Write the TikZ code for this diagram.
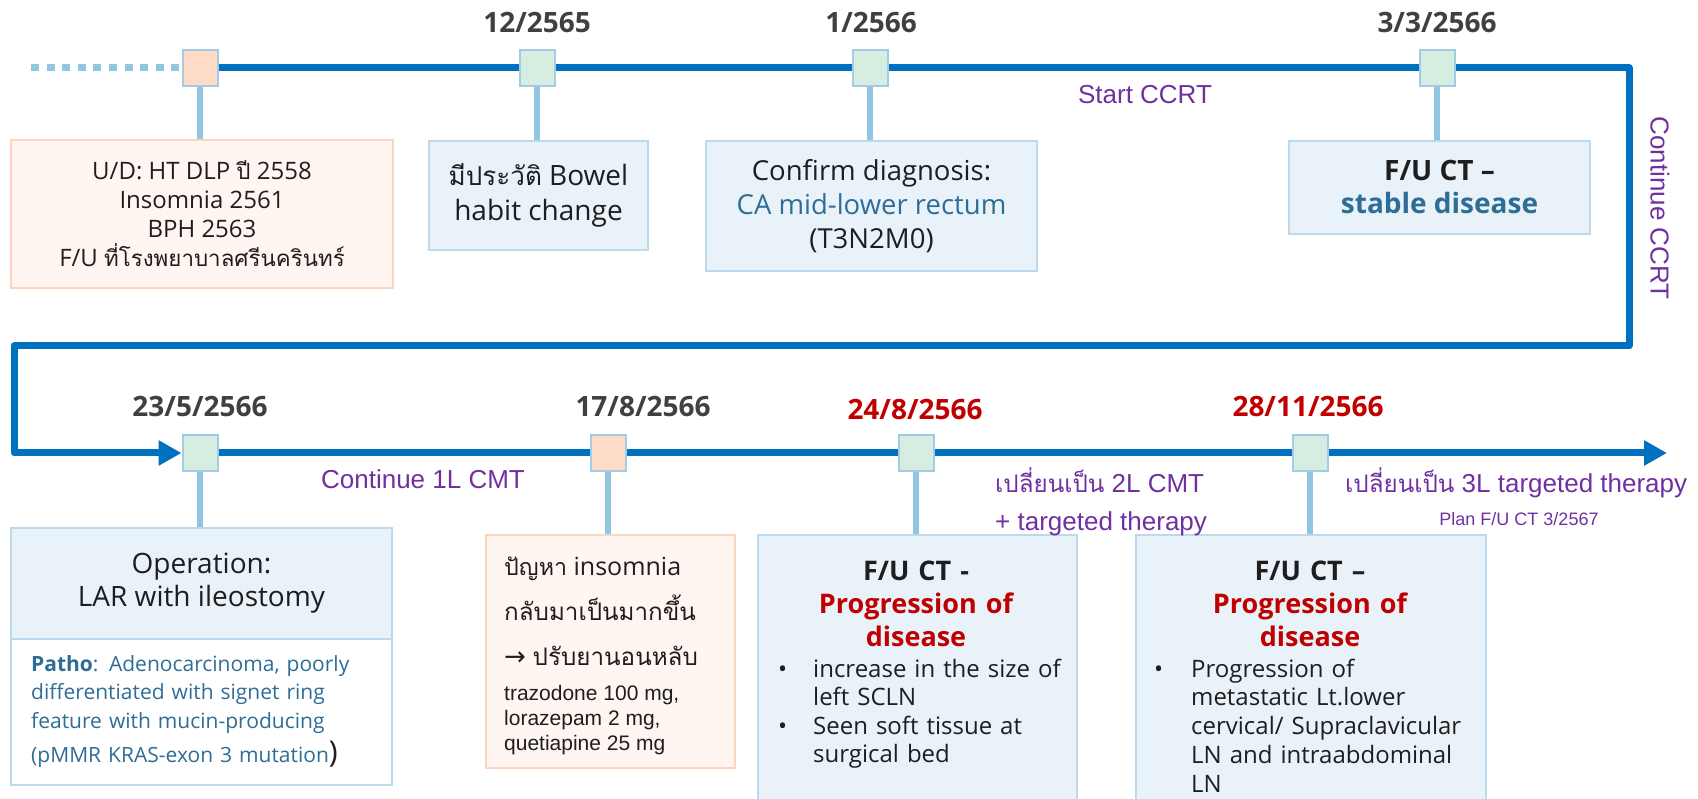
\documentclass[tikz,border=0pt]{standalone}
\usepackage{fontspec}
\setmainfont{Open Sans}
\newfontfamily\arialf{Liberation Sans}
\newfontfamily\thaifont[Script=Thai,Scale=0.93]{Loma}
\newfontfamily\symfont{DejaVu Sans}
\newcommand{\thaitxt}[1]{{\thaifont #1}}
\usetikzlibrary{arrows.meta,backgrounds}
\definecolor{mainblue}{HTML}{0070C0}
\definecolor{lightline}{HTML}{92C5E2}
\definecolor{sqborder}{HTML}{A2CBE8}
\definecolor{mint}{HTML}{D5EEE1}
\definecolor{peachsq}{HTML}{FDDBC6}
\definecolor{bluefill}{HTML}{EAF2F9}
\definecolor{blueborder}{HTML}{BCD9EE}
\definecolor{peachfill}{HTML}{FFF6F2}
\definecolor{peachborder}{HTML}{FBD5BE}
\definecolor{dategray}{HTML}{404040}
\definecolor{datered}{HTML}{C00000}
\definecolor{purp}{HTML}{7030A0}
\definecolor{tealblue}{HTML}{2E6E96}
\definecolor{txt}{HTML}{1E1E1E}
\tikzset{
  mainline/.style={draw=mainblue, line width=7pt, line join=round},
  stem/.style={draw=lightline, line width=6pt},
  sqmint/.style={draw=sqborder, line width=2pt, fill=mint, minimum width=35pt, minimum height=36pt, inner sep=0pt},
  sqpeach/.style={sqmint, fill=peachsq},
  bluebox/.style={draw=blueborder, line width=2pt, fill=bluefill, inner sep=0pt, anchor=north west, text=txt, align=center},
  whitebox/.style={bluebox, fill=white},
  peachbox/.style={draw=peachborder, line width=2pt, fill=peachfill, inner sep=0pt, anchor=north west, text=txt, align=center},
  datelbl/.style={font={\fontsize{28}{30}\selectfont\bfseries}, text=dategray, anchor=base, inner sep=0pt},
  redlbl/.style={datelbl, text=datered},
  purplbl/.style={font={\arialf\fontsize{26}{30}\selectfont}, text=purp, inner sep=0pt},
  txtline/.style={anchor=base west, inner sep=0pt, text=txt},
  tip/.style={-{Triangle[length=23pt,width=24pt]}}
}
\begin{document}
\begin{tikzpicture}[x=1pt,y=-1pt]
\useasboundingbox (0,0) rectangle (1698,799);

% boxes
\node[peachbox, minimum width=382pt, minimum height=148pt, font={\fontsize{24}{29}\selectfont}] (box1) at (10,139)
  {U/D: HT DLP \thaitxt{ปี} 2558\\ Insomnia 2561\\ BPH 2563\\ F/U \thaitxt{ที่โรงพยาบาลศรีนครินทร์}};
\node[bluebox, minimum width=219pt, minimum height=109pt, font={\fontsize{28}{35}\selectfont}] (box2) at (428,140)
  {\thaitxt{มีประวัติ} Bowel\\ habit change};
\node[bluebox, minimum width=331pt, minimum height=130pt, font={\fontsize{27.5}{34}\selectfont}] (box3) at (705,140)
  {Confirm diagnosis:\\ \textcolor{tealblue}{CA mid-lower rectum}\\ (T3N2M0)};
\node[bluebox, minimum width=301pt, minimum height=93pt, font={\fontsize{28}{33}\selectfont\bfseries}] (box4) at (1288,140)
  {F/U CT --\\ \textcolor{tealblue}{stable disease}};
\node[bluebox, minimum width=381pt, minimum height=111pt, font={\fontsize{28}{33}\selectfont}] (box5) at (10,527)
  {Operation:\\ LAR with ileostomy};
\node[whitebox, minimum width=381pt, minimum height=146pt] (box5b) at (10,638) {};
\node[peachbox, minimum width=249pt, minimum height=233pt] (box6) at (485,534) {};
\node[bluebox, minimum width=319pt, minimum height=290pt] (box7) at (757,534) {};
\node[bluebox, minimum width=350pt, minimum height=290pt] (box8) at (1135,534) {};

% squares
\node[sqpeach] (sq1) at (200,68) {};
\node[sqmint] (sq2) at (537,68) {};
\node[sqmint] (sq3) at (870,68) {};
\node[sqmint] (sq4) at (1437,68) {};
\node[sqmint] (sq5) at (200,453) {};
\node[sqpeach] (sq6) at (608,453) {};
\node[sqmint] (sq7) at (916,453) {};
\node[sqmint] (sq8) at (1310,453) {};

\coordinate (dotstart) at (31,68);
\coordinate (c1) at (1629,68);
\coordinate (c2) at (1629,346);
\coordinate (c3) at (14,346);
\coordinate (c4) at (14,453);
\coordinate (lineend) at (1667,453);

\begin{pgfonlayer}{background}
  \draw[draw=lightline, line width=7pt, dash pattern=on 8pt off 7.6pt] (dotstart) -- (sq1.west);
  \draw[mainline, tip] (sq1.center) -- (c1) -- (c2) -- (c3) -- (c4) -- (sq5.west);
  \draw[mainline, tip] (sq5.center) -- (lineend);
  \foreach \s/\b in {sq1/box1, sq2/box2, sq3/box3, sq4/box4, sq5/box5, sq6/box6, sq7/box7, sq8/box8}
    \draw[stem] (\s.south) -- (\s.south |- \b.north);
\end{pgfonlayer}

% dates
\node[datelbl] (d1) at (537,33) {12/2565};
\node[datelbl] (d2) at (871,33) {1/2566};
\node[datelbl] (d3) at (1437,33) {3/3/2566};
\node[datelbl] (d4) at (200,417) {23/5/2566};
\node[datelbl] (d5) at (643,417) {17/8/2566};
\node[redlbl] (d6) at (915,420) {24/8/2566};
\node[redlbl] (d7) at (1308,417) {28/11/2566};

% purple labels
\node[purplbl, anchor=base] (l1) at (1145,104) {Start CCRT};
\node[purplbl, anchor=base] (l2) at (423,489) {Continue 1L CMT};
\node[purplbl, rotate=-90] (l3) at (1660,208) {Continue CCRT};
\node[purplbl, anchor=base west] (l4) at (995,492) {\thaitxt{เปลี่ยนเป็น} 2L CMT};
\node[purplbl, anchor=base west] (l5) at (995,530) {+ targeted therapy};
\node[purplbl, anchor=base west] (l6) at (1345,492) {\thaitxt{เปลี่ยนเป็น} 3L targeted therapy};
\node[purplbl, anchor=base, font={\arialf\fontsize{18}{20}\selectfont}] (l7) at (1519,525) {Plan F/U CT 3/2567};

% patho text
\node[anchor=base west, inner sep=0pt, text width=355pt, align=left, text=tealblue, font={\fontsize{21}{28.5}\selectfont}] (patho) at (31,671)
  {\textbf{Patho}: Adenocarcinoma, poorly\\ differentiated with signet ring\\ feature with mucin-producing\\[6pt] (pMMR KRAS-exon 3 mutation{\color{txt}\fontsize{30}{30}\selectfont)}};

% box 6 text
\node[txtline, font={\fontsize{25}{30}\selectfont}] (t6a) at (504,575) {\thaitxt{ปัญหา} insomnia};
\node[txtline, font={\fontsize{26}{30}\selectfont}] (t6b) at (504,620) {\thaitxt{กลับมาเป็นมากขึ้น}};
\node[txtline, font={\fontsize{26}{30}\selectfont}] (t6c) at (504,665) {{\symfont →} \thaitxt{ปรับยานอนหลับ}};
\node[txtline, font={\arialf\fontsize{21}{25}\selectfont}] (t6d) at (504,700) {trazodone 100 mg,};
\node[txtline, font={\arialf\fontsize{21}{25}\selectfont}] (t6e) at (504,725) {lorazepam 2 mg,};
\node[txtline, font={\arialf\fontsize{21}{25}\selectfont}] (t6f) at (504,750) {quetiapine 25 mg};

% box 7 text
\node[anchor=base, inner sep=0pt, text width=310pt, align=center, text=txt, font={\fontsize{27}{33}\selectfont\bfseries}] (h7) at (916,580)
  {F/U CT -\\ \textcolor{datered}{Progression of}\\ \textcolor{datered}{disease}};
\node[txtline, font={\fontsize{24}{28}\selectfont}] (b7a) at (778,677) {•};
\node[txtline, text width=250pt, align=left, font={\fontsize{24}{28.5}\selectfont}] (t7a) at (813,677) {increase in the size of\\ left SCLN};
\node[txtline, font={\fontsize{24}{28}\selectfont}] (b7b) at (778,734) {•};
\node[txtline, text width=250pt, align=left, font={\fontsize{24}{28.5}\selectfont}] (t7b) at (813,734) {Seen soft tissue at\\ surgical bed};

% box 8 text
\node[anchor=base, inner sep=0pt, text width=340pt, align=center, text=txt, font={\fontsize{27}{33}\selectfont\bfseries}] (h8) at (1310,580)
  {F/U CT --\\ \textcolor{datered}{Progression of}\\ \textcolor{datered}{disease}};
\node[txtline, font={\fontsize{24}{28}\selectfont}] (b8a) at (1154,677) {•};
\node[txtline, text width=290pt, align=left, font={\fontsize{24}{28.8}\selectfont}] (t8a) at (1191,677)
  {Progression of\\ metastatic Lt.lower\\ cervical/ Supraclavicular\\ LN and intraabdominal\\ LN};
\end{tikzpicture}
\end{document}
